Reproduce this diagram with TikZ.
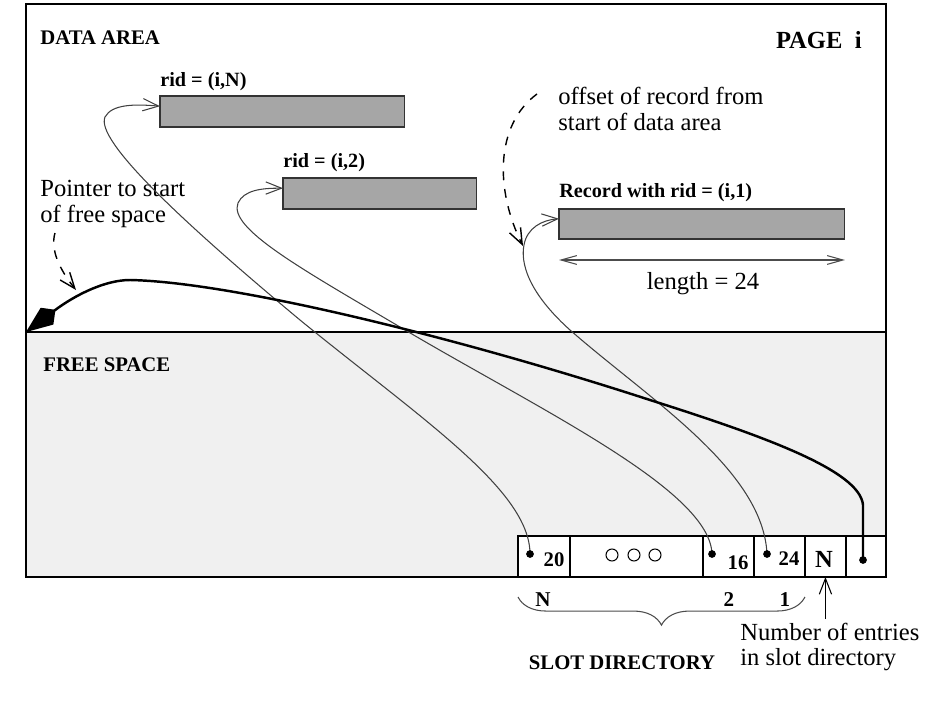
\documentclass[tikz,border=0pt]{standalone}
\usepackage{fontspec}
\setmainfont{Liberation Serif}
\usetikzlibrary{positioning,arrows.meta,decorations.pathreplacing}
\tikzset{
  txt/.style={font=\fontsize{14}{14.6}\selectfont, inner sep=0, align=left},
  hd/.style={font=\fontsize{11.8}{13}\selectfont\bfseries, inner sep=0},
  rec/.style={draw=black!80, fill=black!35, line width=0.6pt, anchor=north west, inner sep=0, outer sep=0, minimum height=0.62cm},
  cell/.style={draw, fill=white, line width=0.8pt, inner sep=0, outer sep=0, minimum height=0.82cm},
  ptr/.style={black!75, line width=0.6pt, -{Straight Barb[length=9pt,width=7pt]}},
  dashptr/.style={line width=0.8pt, dash pattern=on 5pt off 5pt, -{Straight Barb[length=9pt,width=7pt]}},
  fsptr/.style={line width=1.4pt, -{Kite[length=21pt,width=12pt,inset=6pt]}},
  dim/.style={black!70, line width=0.6pt, {Straight Barb[length=9pt,width=5pt]}-{Straight Barb[length=9pt,width=5pt]}},
  brace/.style={black!70, line width=0.6pt, decorate, decoration={brace, amplitude=16pt}}
}
\begin{document}
\begin{tikzpicture}[x=0.02cm, y=-0.02cm]
                \useasboundingbox (0,0) rectangle (933,703);
                \node (free) [fill=black!6, inner sep=0, outer sep=0, minimum width=17.2cm, minimum height=4.9cm, anchor=south west] at (26,577) {};
                \node (page) [draw, line width=1.1pt, inner sep=0, outer sep=0, minimum width=17.2cm, minimum height=11.46cm, anchor=north west] at (26,4) {};
                \draw [line width=1pt] (free.north west) -- (free.north east);
                \node (data) [hd, anchor=west] at (40,38) {DATA AREA};
                \node (pagei) [hd, font=\fontsize{14}{16}\selectfont\bfseries, anchor=east] at (862,40) {PAGE\ \ i};
                \node (fsl) [hd, anchor=west] at (43,365) {FREE SPACE};
                \node (recN) [rec, minimum width=4.9cm] at (160,96) {};
                \node (rec2) [rec, minimum width=3.88cm] at (283,178) {};
                \node (rec1) [rec, minimum width=5.72cm, minimum height=0.6cm] at (559,209) {};
                \node (ridN) [hd, font=\fontsize{11.5}{13}\selectfont\bfseries, anchor=west] at (160,82) {rid = (i,N)};
                \node (rid2) [hd, font=\fontsize{11.5}{13}\selectfont\bfseries, anchor=west] at (283,163) {rid = (i,2)};
                \node (rid1) [hd, font=\fontsize{11.5}{13}\selectfont\bfseries, anchor=west] at (559,193) {Record with rid = (i,1)};
                \node (offs) [txt, anchor=west] at (558,109) {offset of record from\\start of data area};
                \node (pnt) [txt, anchor=west] at (40,204) {Pointer to start\\of free space};
                \node (len) [txt] at (703,284) {length = 24};
                \draw [dim] ([yshift=-0.42cm]rec1.south west) -- ([yshift=-0.42cm]rec1.south east);
                \node (sN) [cell, minimum width=1.04cm, anchor=south west] at (518,577) {};
                \node (sdots) [cell, minimum width=2.66cm, right=0pt of sN] {};
                \node (s2) [cell, minimum width=1.02cm, right=0pt of sdots] {};
                \node (s1) [cell, minimum width=1.02cm, right=0pt of s2] {};
                \node (scnt) [cell, minimum width=0.82cm, right=0pt of s1] {};
                \node (sfree) [cell, minimum width=0.8cm, right=0pt of scnt] {};
                \draw [line width=1.1pt] (sN.north west) rectangle (sfree.south east);
                \node (n20) [hd] at (554,560) {20};
                \node (n16) [hd] at (738,563) {16};
                \node (n24) [hd] at (789,559) {24};
                \node (ncnt) [hd, font=\fontsize{14}{16}\selectfont\bfseries] at (824,559) {N};
                \foreach \x in {612,634,655}
                    \draw [line width=0.6pt] (\x,555) circle [radius=0.12cm];
                \coordinate (dN) at (530,554);
                \coordinate (d2) at (712,554);
                \coordinate (d1) at (767,554);
                \coordinate (dF) at (863,560);
                \draw [ptr] (dN) .. controls (530,490) and (420,418) .. (300,320) .. controls (180,220) and (95,140) .. (105,117) .. controls (112,104) and (135,104) .. ([yshift=3pt]recN.west);
                \draw [ptr] (d2) .. controls (710,490) and (540,410) .. (400,327) .. controls (300,268) and (228,228) .. (238,203) .. controls (244,190) and (262,188) .. ([yshift=3pt]rec2.west);
                \draw [ptr] (d1) .. controls (763,470) and (650,400) .. (570,330) .. controls (520,285) and (522,255) .. (524,245) .. controls (527,228) and (542,220) .. ([yshift=3pt]rec1.west);
                \draw [fsptr] (dF) -- (863,505) .. controls (860,470) and (760,435) .. (650,400) .. controls (450,335) and (230,282) .. (130,280) .. controls (105,280) and (75,295) .. (free.north west);
                \foreach \d in {dN,d2,d1,dF}
                    \fill (\d) circle [radius=2.2pt];
                \coordinate (pstart) at (55,233);
                \coordinate (pend) at (76,290);
                \draw [dashptr] (pstart) .. controls (50,250) and (60,270) .. (pend);
                \coordinate (ostart) at (537,94);
                \coordinate (oend) at (523,246);
                \draw [dashptr] (ostart) .. controls (495,125) and (495,190) .. (oend);
                \node (lN) [hd, font=\fontsize{12}{14}\selectfont\bfseries] at (543,600) {N};
                \node (l2) [hd, font=\fontsize{12}{14}\selectfont\bfseries] at (729,600) {2};
                \node (l1) [hd, font=\fontsize{12}{14}\selectfont\bfseries] at (785,600) {1};
                \draw [brace] ([yshift=-0.4cm]s1.south east) -- ([yshift=-0.4cm]sN.south west);
                \node (sdir) [hd] at (622,663) {SLOT DIRECTORY};
                \node (nent) [txt, anchor=west] at (740,647) {Number of entries\\in slot directory};
                \draw [ptr, black, shorten <=2pt] (scnt.south |- nent.north) -- (scnt.south);
            \end{tikzpicture}
\end{document}
